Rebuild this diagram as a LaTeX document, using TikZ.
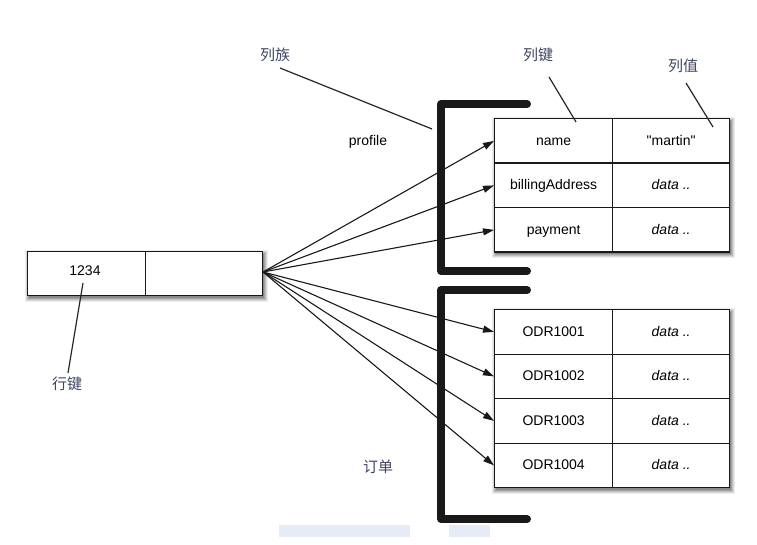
\documentclass[tikz,border=0pt]{standalone}
\usepackage{fontspec}
\setmainfont{Liberation Sans}
\newfontfamily\qfont{Liberation Sans}
\newfontfamily\cjk{Noto Sans CJK SC}
\usetikzlibrary{arrows.meta}
\definecolor{cjkcol}{HTML}{3E4660}
\definecolor{faint}{HTML}{E6ECF5}
\tikzset{
  cell/.style={draw=black!90, line width=1.3pt, fill=white, minimum height=44.5pt, inner sep=0pt, text height=11pt, text depth=2pt, font=\fontsize{14}{16}\selectfont},
  keycell/.style={cell, minimum width=118pt},
  valcell/.style={cell, minimum width=117pt, font=\fontsize{14}{16}\selectfont\itshape},
  bracket/.style={line width=8pt, line cap=round, line join=round, black!90},
  arr/.style={-{Triangle[length=11pt,width=7pt]}, line width=1.1pt, black!90},
  lead/.style={line width=1.2pt, black!85},
  cjklab/.style={font=\cjk\fontsize{15}{17}\selectfont, text=cjkcol, inner sep=1pt},
  lab/.style={font=\fontsize{14}{16}\selectfont, inner sep=1pt}
}
\newcommand{\blurshadow}[4]{%
  \foreach \e/\o in {4/0.07,3/0.09,2/0.12,1/0.14,0/0.16}{
    \fill[black, opacity=\o] ({#1+2-\e},{#2+3-\e}) rectangle ({#3+2+\e},{#4+3+\e});
  }%
}
\begin{document}
\begin{tikzpicture}[x=1pt,y=-1pt]
\useasboundingbox (0,0) rectangle (757,545);
% faint artefacts
\fill[faint] (279,525) rectangle (410,537);
\fill[faint] (449,525) rectangle (490,537);
% brackets
\draw[bracket] (527,104) -- (441,104) -- (441,271) -- (527,271);
\draw[bracket] (527,290) -- (441,290) -- (441,519) -- (527,519);
% shadows
\blurshadow{27}{251}{262}{295}
\blurshadow{494}{118}{729}{251}
\blurshadow{494}{309}{729}{487}
% row key box
\node[cell, minimum width=118pt, minimum height=44pt, anchor=north west] (rk) at (27,251) {};
\node[cell, minimum width=117pt, minimum height=44pt, anchor=north west] (rv) at (145,251) {};
\node[lab] (rktext) at (85,271) {1234};
\coordinate (src) at (263,272);
% table 1
\node[keycell, anchor=north west] (k1) at (494,118) {name};
\node[valcell, anchor=north west, font=\qfont\fontsize{14}{16}\selectfont] (v1) at (612,118) {"martin"};
\node[keycell, anchor=north west] (k2) at (494,162.5) {billingAddress};
\node[valcell, anchor=north west] (v2) at (612,162.5) {data ..};
\node[keycell, anchor=north west] (k3) at (494,207) {payment};
\node[valcell, anchor=north west] (v3) at (612,207) {data ..};
% table 2
\node[keycell, anchor=north west] (o1) at (494,309) {ODR1001};
\node[valcell, anchor=north west] (w1) at (612,309) {data ..};
\node[keycell, anchor=north west] (o2) at (494,353.5) {ODR1002};
\node[valcell, anchor=north west] (w2) at (612,353.5) {data ..};
\node[keycell, anchor=north west] (o3) at (494,398) {ODR1003};
\node[valcell, anchor=north west] (w3) at (612,398) {data ..};
\node[keycell, anchor=north west] (o4) at (494,442.5) {ODR1004};
\node[valcell, anchor=north west] (w4) at (612,442.5) {data ..};
% arrows
\foreach \t in {k1,k2,k3,o1,o2,o3,o4}{
  \draw[arr] (src) -- (\t.west);
}
% labels
\node[cjklab] (lz) at (275,55) {列族};
\node[lab] (prof) at (368,142) {profile};
\node[cjklab] (lj) at (538,55) {列键};
\node[cjklab] (lv) at (683,66) {列值};
\node[cjklab] (dd) at (378,467) {订单};
\node[cjklab] (hj) at (67,384) {行键};
\coordinate (lzE) at (432,129);
\coordinate (ljE) at (576,122);
\coordinate (lvE) at (713,127);
\coordinate (hjE) at (83,283);
\draw[lead] (280,68) -- (lzE);
\draw[lead] (549,77) -- (ljE);
\draw[lead] (686,83) -- (lvE);
\draw[lead] (hjE) -- (68,373);
\end{tikzpicture}
\end{document}
